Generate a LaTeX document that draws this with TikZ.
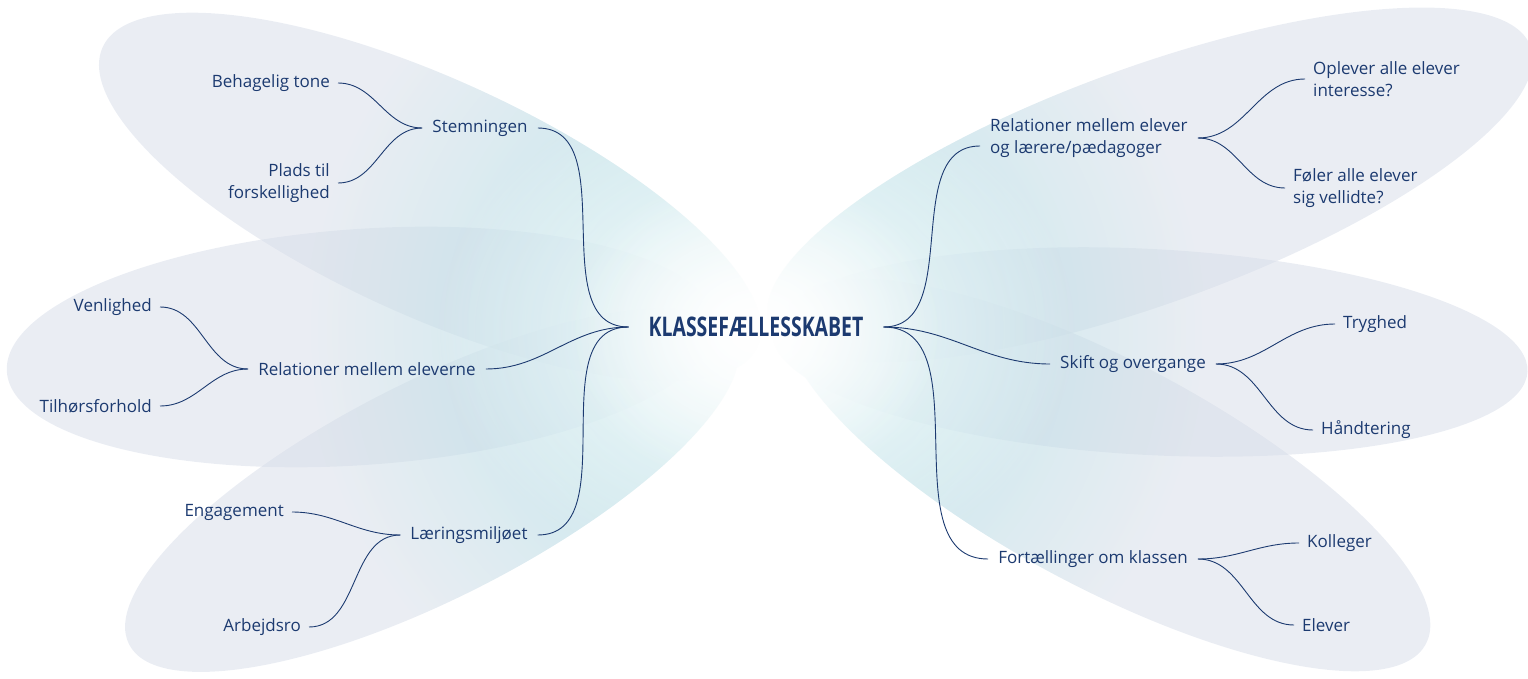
\documentclass[tikz,border=0pt]{standalone}
\usepackage{fontspec}
\setmainfont{Open Sans}
\newfontfamily\titlefont{Open Sans}[FakeStretch=0.72]
\usetikzlibrary{calc,fadings}

\definecolor{navy}{RGB}{28,58,112}
\definecolor{petalgray}{RGB}{214,220,232}
\definecolor{petalteal}{RGB}{168,226,230}

\tikzfading[name=glow fade, inner color=transparent!0, outer color=transparent!100]

\tikzset{
    petal/.style={fill=petalgray, fill opacity=0.5},
    topic/.style={text=navy, font=\fontsize{17}{22}\selectfont, inner xsep=10pt, inner ysep=2pt},
    leaf/.style={topic, inner xsep=8pt},
    title/.style={text=navy, font=\titlefont\bfseries\fontsize{27}{27}\selectfont, inner xsep=20pt},
    branch/.style={draw=navy, line width=0.9pt},
}

% petals: x/y/x radius/y radius/angle
\newcommand\PetalList{430/197/360/118/-24.6, 361/347/355/118/4, 432/490/340/108/27,
    1150/185/405/118/20, 1150/352/378/103/-3, 1108/475/360/113/-28}

\begin{document}
\begin{tikzpicture}[x=1pt,y=-1pt]
    \useasboundingbox (0,0) rectangle (1528,679);
    % background petals
    \foreach \cx/\cy/\ra/\rb/\ang in \PetalList
        \fill[petal] (\cx,\cy) ellipse [x radius=\ra pt, y radius=\rb pt, rotate=\ang];
    \begin{scope}
        \clip \foreach \cx/\cy/\ra/\rb/\ang in \PetalList {
            (\cx,\cy) ellipse [x radius=\ra pt, y radius=\rb pt, rotate=\ang] };
        \fill[petalteal, fill opacity=0.75, path fading=glow fade] (756,330) circle [radius=450pt];
    \end{scope}
    % white glow round the centre
    \fill[white, path fading=glow fade] (756,330) ellipse [x radius=320pt, y radius=250pt];
    \fill[white, path fading=glow fade] (756,330) ellipse [x radius=190pt, y radius=160pt];

    % center
    \node[title] (klasse) at (756,327) {KLASSEFÆLLESSKABET};

    % left side
    \node[topic] (stem) at (480,128) {Stemningen};
    \node[topic] (relelev) at (367,369) {Relationer mellem eleverne};
    \node[topic] (laer) at (469,535) {Læringsmiljøet};
    \node[leaf, anchor=east] (behag) at (338,83) {Behagelig tone};
    \node[leaf, anchor=east, align=right] (plads) at (338,183) {Plads til\\forskellighed};
    \node[leaf, anchor=east] (venl) at (160,307) {Venlighed};
    \node[leaf, anchor=east] (tilh) at (160,406) {Tilhørsforhold};
    \node[leaf, anchor=east] (engag) at (292,512) {Engagement};
    \node[leaf, anchor=east] (arbejd) at (309,627) {Arbejdsro};

    % right side
    \node[topic, anchor=west, align=left] (rellaer) at (980,138) {Relationer mellem elever\\og lærere/pædagoger};
    \node[topic] (skift) at (1133,364) {Skift og overgange};
    \node[topic] (fort) at (1093,559) {Fortællinger om klassen};
    \node[leaf, anchor=west, align=left] (oplev) at (1305,79) {Oplever alle elever\\interesse?};
    \node[leaf, anchor=west, align=left] (foler) at (1285,188) {Føler alle elever\\sig vellidte?};
    \node[leaf, anchor=west] (tryg) at (1335,324) {Tryghed};
    \node[leaf, anchor=west] (handt) at (1313,430) {Håndtering};
    \node[leaf, anchor=west] (kolleg) at (1299,543) {Kolleger};
    \node[leaf, anchor=west] (elev) at (1294,625) {Elever};

    \coordinate (rellaerIn) at ($(rellaer.west)+(0,8)$);

    % connectors
    \foreach \a/\b in {behag/stem, plads/stem, venl/relelev, tilh/relelev, engag/laer, arbejd/laer,
        stem/klasse, relelev/klasse, laer/klasse}
        \draw[branch] (\a.east) to[out=0, in=180] (\b.west);
    \draw[branch] (klasse.east) to[out=0, in=180] (rellaerIn);
    \foreach \a/\b in {klasse/skift, klasse/fort, rellaer/oplev, rellaer/foler,
        skift/tryg, skift/handt, fort/kolleg, fort/elev}
        \draw[branch] (\a.east) to[out=0, in=180] (\b.west);
\end{tikzpicture}
\end{document}
